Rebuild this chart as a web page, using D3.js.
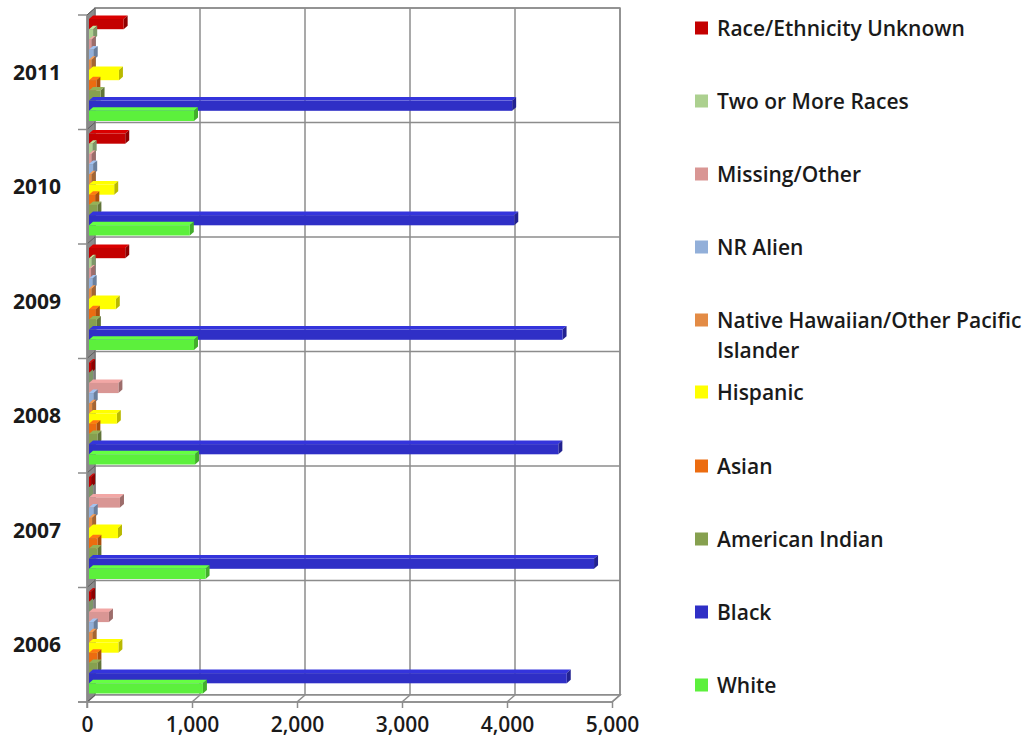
<!DOCTYPE html>
<html>
<head>
<meta charset="utf-8">
<script src="https://cdn.jsdelivr.net/npm/d3@7"></script>
<style>
  html, body { margin: 0; padding: 0; background: #ffffff; }
  svg { display: block; }
</style>
</head>
<body>
<svg id="chart" width="1034" height="747"></svg>
<script>
// ---------- DATA ----------
const years = ["2011", "2010", "2009", "2008", "2007", "2006"];
// series listed top-to-bottom as stacked in each group (and legend order)
const seriesNames = [
  "Race/Ethnicity Unknown",
  "Two or More Races",
  "Missing/Other",
  "NR Alien",
  "Native Hawaiian/Other Pacific Islander",
  "Hispanic",
  "Asian",
  "American Indian",
  "Black",
  "White"
];
const seriesColors = [
  "#c40000", "#acd08f", "#d99694", "#92afd9", "#e38b45",
  "#ffff00", "#ec6c10", "#86a04f", "#2f2fc6", "#5cf03c"
];
// values per year, order: 2011, 2010, 2009, 2008, 2007, 2006
const unknownVals   = [330, 345, 345, 20, 20, 20];
const twoMoreVals   = [40, 35, 25, 0, 0, 0];
const missingVals   = [25, 25, 20, 280, 295, 190];
const nrAlienVals   = [45, 40, 35, 45, 45, 45];
const nhpiVals      = [25, 25, 25, 30, 30, 35];
const hispanicVals  = [285, 240, 255, 265, 276, 280];
const asianVals     = [70, 60, 65, 70, 80, 80];
const amIndianVals  = [110, 80, 75, 80, 80, 80];
const blackVals     = [4030, 4050, 4510, 4470, 4810, 4550];
const whiteVals     = [1000, 960, 1000, 1010, 1110, 1085];
const seriesValues = [unknownVals, twoMoreVals, missingVals, nrAlienVals, nhpiVals,
                      hispanicVals, asianVals, amIndianVals, blackVals, whiteVals];
const xTicks = [0, 1000, 2000, 3000, 4000, 5000];

// ---------- LAYOUT ----------
const svg = d3.select("#chart");
const DX = 8, DY = -7;                       // depth offset front -> back
const xFront = d3.scaleLinear().domain([0, 5000]).range([87, 612]);
const xBack  = d3.scaleLinear().domain([0, 5000]).range([87 + DX, 612 + DX]);
const xBar   = d3.scaleLinear().domain([0, 5000]).range([89, 614]);
const yFront = d3.scaleBand().domain(years).range([15, 702]).padding(0);
const yInner = d3.scaleBand().domain(seriesNames).range([5, yFront.bandwidth() - 7.5]).padding(0);
const FY0 = 15, FY1 = 702;
const gridColor = "#8c8c8c";

const g = svg.append("g");

// back wall
g.append("rect")
  .attr("x", xBack(0)).attr("y", FY0 + DY)
  .attr("width", xBack(5000) - xBack(0)).attr("height", FY1 - FY0)
  .attr("fill", "#ffffff").attr("stroke", gridColor).attr("stroke-width", 1.5);

// vertical gridlines on back wall
g.selectAll(".vgrid").data(xTicks.slice(1)).join("line")
  .attr("x1", d => xBack(d)).attr("x2", d => xBack(d))
  .attr("y1", FY0 + DY).attr("y2", FY1 + DY)
  .attr("stroke", gridColor).attr("stroke-width", 1.5);

// horizontal gridlines on back wall (category boundaries)
const bounds = years.map(y => yFront(y)).concat([FY1]);
g.selectAll(".hgrid").data(bounds).join("line")
  .attr("x1", xBack(0)).attr("x2", xBack(5000))
  .attr("y1", d => d + DY).attr("y2", d => d + DY)
  .attr("stroke", gridColor).attr("stroke-width", 1.5);

// floor
g.append("path")
  .attr("d", `M${xFront(0)},${FY1} L${xBack(0)},${FY1 + DY} L${xBack(5000)},${FY1 + DY} L${xFront(5000)},${FY1} Z`)
  .attr("fill", "#ffffff").attr("stroke", gridColor).attr("stroke-width", 1.5);
g.selectAll(".fgrid").data(xTicks).join("line")
  .attr("x1", d => xFront(d)).attr("x2", d => xBack(d))
  .attr("y1", FY1).attr("y2", FY1 + DY)
  .attr("stroke", gridColor).attr("stroke-width", 1.5);

// left wall
g.append("path")
  .attr("d", `M${xFront(0)},${FY0} L${xBack(0)},${FY0 + DY} L${xBack(0)},${FY1 + DY} L${xFront(0)},${FY1} Z`)
  .attr("fill", "#8a8a8a").attr("stroke", "#6f6f6f").attr("stroke-width", 1);
g.selectAll(".lwall").data(bounds).join("line")
  .attr("x1", xFront(0)).attr("x2", xBack(0))
  .attr("y1", d => d).attr("y2", d => d + DY)
  .attr("stroke", "#5e5e5e").attr("stroke-width", 1);

// ---------- BARS ----------
const bdx = 4, bdy = -3.5; // bar extrusion
const barData = [];
years.forEach((yr, yi) => {
  seriesNames.forEach((s, si) => {
    barData.push({ year: yr, series: s, value: seriesValues[si][yi], color: seriesColors[si] });
  });
});
const bars = g.append("g").selectAll("g.bar").data(barData).join("g").attr("class", "bar");
bars.each(function(d) {
  const sel = d3.select(this);
  const y0 = yFront(d.year) - 1 + yInner(d.series);
  const h = yInner.bandwidth();
  const x0 = xBar(0), x1 = xBar(d.value);
  const c = d3.color(d.color);
  // top face
  sel.append("path")
    .attr("d", `M${x0},${y0} L${x0 + bdx},${y0 + bdy} L${x1 + bdx},${y0 + bdy} L${x1},${y0} Z`)
    .attr("fill", c.brighter(0.3).formatHex());
  // end face
  sel.append("path")
    .attr("d", `M${x1},${y0} L${x1 + bdx},${y0 + bdy} L${x1 + bdx},${y0 + h + bdy} L${x1},${y0 + h} Z`)
    .attr("fill", c.darker(0.9).formatHex());
  // front face
  sel.append("rect")
    .attr("x", x0).attr("y", y0).attr("width", Math.max(0, x1 - x0)).attr("height", h)
    .attr("fill", d.color);
});

// ---------- AXES ----------
// front value axis line
g.append("line").attr("x1", 78).attr("x2", xFront(5000)).attr("y1", FY1).attr("y2", FY1)
  .attr("stroke", gridColor).attr("stroke-width", 1.5);
// front category axis line
g.append("line").attr("x1", xFront(0)).attr("x2", xFront(0)).attr("y1", FY0).attr("y2", 708)
  .attr("stroke", gridColor).attr("stroke-width", 1.5);

const xAxis = d3.axisBottom(xFront).tickValues(xTicks).tickSize(6).tickSizeOuter(0)
  .tickFormat(d3.format(","));
const xa = g.append("g").attr("transform", `translate(0,${FY1})`).call(xAxis);
xa.select(".domain").remove();
xa.selectAll(".tick line").attr("stroke", gridColor).attr("stroke-width", 1.5);
xa.selectAll(".tick text")
  .attr("y", 15)
  .attr("font-family", "'Open Sans', sans-serif").attr("font-size", 21).attr("font-weight", 600)
  .attr("fill", "#1a1a1a");

// category ticks
g.selectAll(".ctick").data(bounds).join("line")
  .attr("x1", 78).attr("x2", xFront(0))
  .attr("y1", d => d).attr("y2", d => d)
  .attr("stroke", gridColor).attr("stroke-width", 1.5);

g.selectAll(".ylab").data(years).join("text")
  .attr("x", 37).attr("y", d => yFront(d) + yFront.bandwidth() / 2 + 7.5)
  .attr("text-anchor", "middle")
  .attr("font-family", "'Open Sans', sans-serif").attr("font-size", 21).attr("font-weight", 700)
  .attr("fill", "#1a1a1a")
  .text(d => d);

// ---------- LEGEND ----------
const legendY = [28, 101, 174, 247, 320, 392, 466, 539, 612, 685];
const lg = svg.append("g");
seriesNames.forEach((s, i) => {
  const cy = legendY[i];
  lg.append("rect").attr("x", 695).attr("y", cy - 6.5).attr("width", 13).attr("height", 13)
    .attr("fill", seriesColors[i]);
  const t = lg.append("text").attr("x", 717).attr("y", cy + 7.5)
    .attr("font-family", "'Open Sans', sans-serif").attr("font-size", 21).attr("font-weight", 600)
    .attr("fill", "#1a1a1a");
  if (s === "Native Hawaiian/Other Pacific Islander") {
    t.append("tspan").attr("x", 717).text("Native Hawaiian/Other Pacific");
    t.append("tspan").attr("x", 717).attr("dy", 30).text("Islander");
  } else {
    t.text(s);
  }
});
</script>
</body>
</html>
